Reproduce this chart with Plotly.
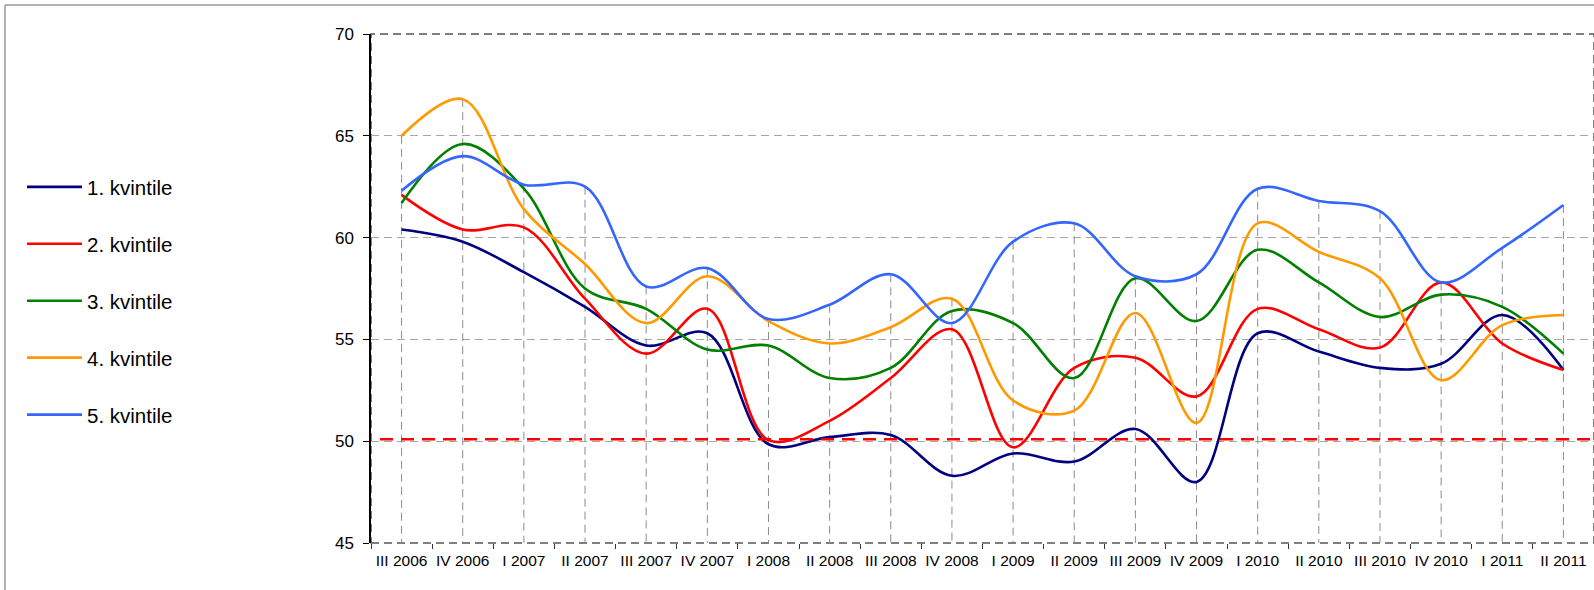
import plotly.graph_objects as go

categories = ["III 2006", "IV 2006", "I 2007", "II 2007", "III 2007", "IV 2007",
              "I 2008", "II 2008", "III 2008", "IV 2008", "I 2009", "II 2009",
              "III 2009", "IV 2009", "I 2010", "II 2010", "III 2010", "IV 2010",
              "I 2011", "II 2011"]

q1 = [60.4, 59.8, 58.3, 56.6, 54.7, 55.3, 49.85, 50.2, 50.3, 48.3,
      49.4, 49.0, 50.6, 48.0, 55.3, 54.4, 53.6, 53.8, 56.2, 53.5]
q2 = [62.1, 60.4, 60.5, 57.0, 54.3, 56.5, 50.05, 51.0, 53.1, 55.5,
      49.7, 53.6, 54.1, 52.2, 56.5, 55.5, 54.6, 57.8, 54.8, 53.5]
q3 = [61.7, 64.6, 62.4, 57.5, 56.5, 54.5, 54.7, 53.1, 53.6, 56.4,
      55.8, 53.1, 58.0, 55.9, 59.4, 57.8, 56.1, 57.2, 56.6, 54.3]
q4 = [65.0, 66.8, 61.4, 58.7, 55.8, 58.1, 55.9, 54.8, 55.6, 57.0,
      52.0, 51.5, 56.3, 50.9, 60.7, 59.3, 58.0, 53.0, 55.7, 56.2]
q5 = [62.3, 64.0, 62.6, 62.5, 57.6, 58.5, 56.0, 56.7, 58.2, 55.8,
      59.8, 60.7, 58.1, 58.2, 62.4, 61.8, 61.3, 57.8, 59.5, 61.6]

series_names = ["1. kvintile", "2. kvintile", "3. kvintile", "4. kvintile", "5. kvintile"]
series_values = [q1, q2, q3, q4, q5]
series_colors = ["#000080", "#FF0000", "#008000", "#FF9900", "#3366FF"]

threshold = 50.1
y_min, y_max, y_step = 45, 70, 5

W, H = 1594, 590
ML, MR, MT, MB = 371, 0, 34, 47
PW, PH = W - ML - MR, H - MT - MB
PLOT_LEFT, PLOT_BOTTOM = ML, MT + PH


def px_x(p):
    return (p - PLOT_LEFT) / PW


def px_y(p):
    return (PLOT_BOTTOM - p) / PH


fig = go.Figure()

# drop lines from the highest series to the axis
drop_x, drop_y = [], []
for i, c in enumerate(categories):
    top = max(s[i] for s in series_values)
    drop_x += [c, c, None]
    drop_y += [top, y_min, None]
fig.add_trace(go.Scatter(x=drop_x, y=drop_y, mode="lines", showlegend=False,
                         hoverinfo="skip",
                         line=dict(color="#8c8c8c", width=1, dash="8px,5px")))

for name, vals, col in zip(series_names, series_values, series_colors):
    fig.add_trace(go.Scatter(x=categories, y=vals, name=name, mode="lines",
                             legendgroup=name,
                             line=dict(color=col, width=2.6, shape="spline", smoothing=1)))

shapes = [
    # plot-area border (dashed)
    dict(type="rect", xref="paper", yref="paper", x0=0, x1=1, y0=0, y1=1,
         line=dict(color="#555555", width=1.5, dash="8px,5px"), layer="below"),
    # threshold line
    dict(type="line", xref="paper", yref="y", x0=px_x(380), x1=1, y0=threshold, y1=threshold,
         line=dict(color="#FF0000", width=2.5, dash="13px,8px"), layer="above"),
    # outer chart frame
    dict(type="line", xref="paper", yref="paper", x0=px_x(5), x1=px_x(5), y0=px_y(5), y1=px_y(600),
         line=dict(color="#999999", width=1.5)),
    dict(type="line", xref="paper", yref="paper", x0=px_x(5), x1=px_x(1600), y0=px_y(5), y1=px_y(5),
         line=dict(color="#999999", width=1.5)),
]

fig.update_layout(
    width=W, height=H,
    margin=dict(l=ML, r=MR, t=MT, b=MB, pad=0, autoexpand=False),
    paper_bgcolor="white", plot_bgcolor="white",
    font=dict(family="Liberation Sans, Arial, sans-serif", color="black"),
    showlegend=True,
    legend=dict(x=px_x(22), y=px_y(167), xanchor="left", yanchor="top",
                font=dict(size=20.5, color="black"), tracegroupgap=27.3,
                itemwidth=55, bgcolor="rgba(0,0,0,0)"),
    shapes=shapes,
)

fig.update_xaxes(type="category", range=[-0.5, len(categories) - 0.5],
                 showgrid=False, showline=False, zeroline=False, automargin=False,
                 ticks="outside", tickson="boundaries", ticklen=5, tickcolor="#333333",
                 tickwidth=1, tickfont=dict(size=15.5, color="black"), tickangle=0,
                 ticklabelstandoff=6)

fig.update_yaxes(range=[y_min, y_max], dtick=y_step, tick0=y_min, automargin=False,
                 showgrid=True, gridcolor="#a6a6a6", griddash="8px,5px", gridwidth=1,
                 showline=True, linecolor="black", linewidth=1.5, zeroline=False,
                 ticks="outside", ticklen=6, tickcolor="black",
                 tickfont=dict(size=17, color="black"), ticklabelstandoff=6)

fig.write_html("out.html", config={"displayModeBar": False},
               post_script="document.body.style.margin='0';document.body.style.overflow='hidden';")
